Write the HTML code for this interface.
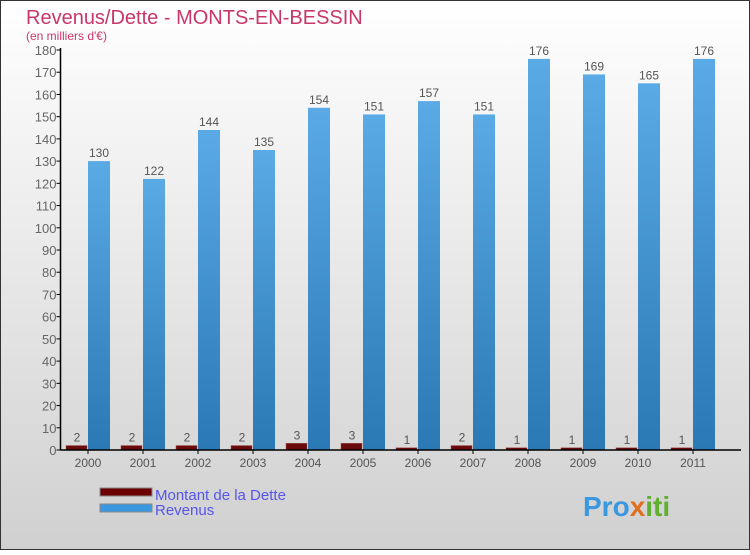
<!DOCTYPE html>
<html><head><meta charset="utf-8"><style>
html,body{margin:0;padding:0}
body{width:750px;height:550px;overflow:hidden;font-family:"Liberation Sans","DejaVu Sans",sans-serif}
</style></head><body>
<svg id="chart" width="750" height="550" xmlns="http://www.w3.org/2000/svg">
<defs>
<linearGradient id="bg" x1="0" y1="0" x2="0" y2="1"><stop offset="0" stop-color="#ffffff"/><stop offset="1" stop-color="#d0d0d0"/></linearGradient>
<linearGradient id="blue" x1="0" y1="0" x2="0" y2="1"><stop offset="0" stop-color="#5aaae6"/><stop offset="1" stop-color="#2a78b4"/></linearGradient>
</defs>
<rect x="0.5" y="0.5" width="749" height="549" fill="url(#bg)" stroke="#333"/>
<text x="26" y="24" font-size="20" fill="#c8366a">Revenus/Dette - MONTS-EN-BESSIN</text>
<text x="26" y="40" font-size="12" fill="#c8366a">(en milliers d'€)</text>
<g id="bars"></g><g id="axes"></g>
<g>
<rect x="100" y="488" width="52" height="8" fill="#6a0000" stroke="#888"/>
<text x="155" y="500" font-size="15" fill="#5555ee">Montant de la Dette</text>
<rect x="100" y="504" width="52" height="8" fill="#3a98e0" stroke="#888"/>
<text x="155" y="515" font-size="15" fill="#5555ee">Revenus</text>
</g>
<text x="583" y="516" font-size="28" font-weight="bold" fill="#3a98e0">Pro<tspan fill="#e07020">x</tspan><tspan fill="#60b030">iti</tspan></text>
</svg>
<script>
const years=["2000","2001","2002","2003","2004","2005","2006","2007","2008","2009","2010","2011"];
const dette=[2,2,2,2,3,3,1,2,1,1,1,1];
const revenus=[130,122,144,135,154,151,157,151,176,169,165,176];
const yTicks=[0,10,20,30,40,50,60,70,80,90,100,110,120,130,140,150,160,170,180];
const NS="http://www.w3.org/2000/svg";
const x0=60.5,cw=55,yb=450,yt=50,ymax=180;
const y=v=>yb-(v/ymax)*(yb-yt);
const xc=i=>x0+cw*i+cw/2;
function el(t,a,p){const e=document.createElementNS(NS,t);for(const k in a)e.setAttribute(k,a[k]);p.appendChild(e);return e;}
const bars=document.getElementById('bars'),axes=document.getElementById('axes');
yTicks.forEach(v=>{
 const tk=el('line',{x1:x0-4,x2:x0,y1:y(v),y2:y(v),stroke:'#000'},axes);
 
 
 const t=el('text',{x:x0-4,y:y(v)+5,'font-size':13,'text-anchor':'end',fill:'#666'},axes);
 t.textContent=v;
 
 
});
years.forEach((yr,i)=>{
 const c=xc(i);
 const d=el('rect',{x:c-22,y:y(dette[i]),width:21,height:yb-y(dette[i]),fill:'#6a0a0a',stroke:'#a05050','stroke-width':0.5},bars);
 
 
 const dl=el('text',{x:c-11,y:y(dette[i])-4,'font-size':12,'text-anchor':'middle',fill:'#555'},bars);
 dl.textContent=dette[i];
 
 
 const r=el('rect',{x:c,y:y(revenus[i]),width:22,height:yb-y(revenus[i]),fill:'url(#blue)'},bars);
 
 
 const rl=el('text',{x:c+11,y:y(revenus[i])-4,'font-size':12,'text-anchor':'middle',fill:'#555'},bars);
 rl.textContent=revenus[i];
 
 
 const tk=el('line',{x1:c,x2:c,y1:yb,y2:yb+4,stroke:'#000'},axes);
 
 
 const t=el('text',{x:c,y:yb+17,'font-size':12,'text-anchor':'middle',fill:'#555'},axes);
 t.textContent=yr;
 
 
});
const ya=el('line',{x1:x0,x2:x0,y1:yt-2,y2:yb,stroke:'#000','stroke-width':1.5},axes);


const xa=el('line',{x1:x0,x2:741,y1:yb,y2:yb,stroke:'#000','stroke-width':1.5},axes);


</script>
</body></html>
